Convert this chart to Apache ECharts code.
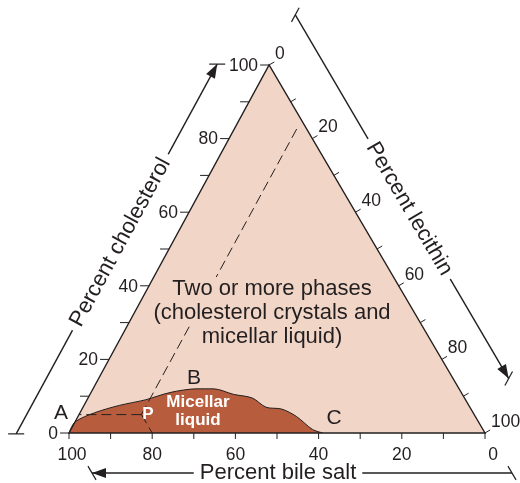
<!DOCTYPE html>
<html>
<head>
<meta charset="utf-8">
<title>Bile salt / lecithin / cholesterol</title>
<script src="https://cdn.jsdelivr.net/npm/echarts@6.0.0/dist/echarts.min.js"></script>
<style>
  html, body { margin: 0; padding: 0; background: #fff; }
  #chart { width: 520px; height: 483px; }
</style>
</head>
<body>
<div id="chart"></div>
<script>
  // every composition is [bile salt, lecithin, cholesterol] in percent
  var tickValues = [0, 10, 20, 30, 40, 50, 60, 70, 80, 90, 100];
  var labelValues = [0, 20, 40, 60, 80, 100];

  // upper edge of the micellar liquid zone, from A over B down to C
  var edgeBileSalt    = [100, 97, 91, 84, 77, 70, 63, 59, 55, 51, 49, 45.5, 43, 41, 39];
  var edgeLecithin    = [0, 0, 3.5, 8.5, 14, 19, 25, 29, 34.5, 39.5, 44, 48, 52.5, 58, 61];
  var edgeCholesterol = [0, 3, 5.5, 7.5, 9, 11, 12, 12, 10.5, 9.5, 7, 6.5, 4.5, 1, 0];

  // point P and where its three reading lines meet the sides
  var pointP = [80, 15, 5];
  var readCholesterol = [95, 0, 5];   // A
  var readLecithin = [2, 15, 83];
  var readBileSalt = [80, 20, 0];

  // corners: pure bile salt, pure cholesterol, pure lecithin
  var corners = [[100, 0, 0], [0, 0, 100], [0, 100, 0]];

  var INK = '#231f20';
  var PINK = '#f1d5c6';
  var RED = '#b75d3e';
  var FAMILY = '"Liberation Sans", Arial, sans-serif';

  // the apex of the printed triangle sits a little left of centre
  var APEX = 48.1;

  function toXY(t) {
    return [t[1] + t[2] * APEX / 100, t[2]];
  }

  var edgeData = edgeBileSalt.map(function (b, i) {
    return toXY([b, edgeLecithin[i], edgeCholesterol[i]]);
  });

  function unit(a, b) {
    var dx = b[0] - a[0], dy = b[1] - a[1];
    var len = Math.sqrt(dx * dx + dy * dy);
    return [dx / len, dy / len, len];
  }

  function seg(a, b, w) {
    return {
      type: 'line',
      shape: { x1: a[0], y1: a[1], x2: b[0], y2: b[1] },
      style: { stroke: INK, lineWidth: w || 1 }
    };
  }

  function txt(s, x, y, size, align, valign, extra) {
    var style = {
      text: s, fill: INK, font: size + 'px ' + FAMILY,
      textAlign: align, textVerticalAlign: valign
    };
    for (var k in extra) style[k] = extra[k];
    return { type: 'text', x: x, y: y, style: style };
  }

  // ticks + numbers along one side
  function sideSeries(side) {
    var data = tickValues.map(function (v) {
      var t;
      if (side === 'bile') t = [v, 100 - v, 0];
      else if (side === 'chol') t = [100 - v, 0, v];
      else t = [0, v, 100 - v];
      return toXY(t).concat(v);
    });
    return {
      type: 'custom',
      coordinateSystem: 'cartesian2d',
      silent: true,
      z: 6,
      data: data,
      renderItem: function (params, api) {
        var p = api.coord([api.value(0), api.value(1)]);
        var v = api.value(2);
        var kids = [];
        var showLabel = labelValues.indexOf(v) >= 0;
        if (side === 'bile') {
          kids.push(seg(p, [p[0], p[1] + 6]));
          if (showLabel) {
            var nudge = v === 0 ? 8 : (v === 100 ? 3 : 0);
            kids.push(txt(String(v), p[0] + nudge, p[1] + 22, 17.5, 'center', 'middle'));
          }
        } else if (side === 'chol') {
          kids.push(seg([p[0] - 9, p[1]], p));
          if (showLabel) kids.push(txt(String(v), p[0] - 11, p[1] + 1, 17.5, 'right', 'middle'));
        } else {
          var T = api.coord(toXY(corners[1]));
          var R = api.coord(toXY(corners[2]));
          var u = unit(T, R);
          var n = [-u[1], u[0]];
          if (n[0] < 0) n = [-n[0], -n[1]];
          kids.push(seg(p, [p[0] + n[0] * 6, p[1] + n[1] * 6]));
          if (showLabel) kids.push(txt(String(v), p[0] + 6, p[1] - 11, 17.5, 'left', 'middle'));
        }
        return { type: 'group', children: kids };
      }
    };
  }

  // long arrowed guide lines with the axis titles
  var guides = [
    { title: 'Percent cholesterol', from: 0, to: 1, offset: 46, start: -26, trim: 24, at: 192, flip: false },
    { title: 'Percent lecithin', from: 1, to: 2, offset: 48, start: -30, trim: 35, at: 195, flip: false },
    { title: 'Percent bile salt', from: 2, to: 0, offset: 40, start: -27, trim: 23, at: 207, flip: true }
  ];

  var chart = echarts.init(document.getElementById('chart'));

  var option = {
    animation: false,
    backgroundColor: '#fff',
    grid: { left: 69, right: 35, top: 65, bottom: 50 },
    xAxis: { type: 'value', min: 0, max: 100, show: false },
    yAxis: { type: 'value', min: 0, max: 100, show: false },
    series: [
      {
        // whole triangle, two or more phases
        type: 'custom',
        coordinateSystem: 'cartesian2d',
        silent: true,
        z: 1,
        data: [[0, 0]],
        renderItem: function (params, api) {
          var pts = corners.map(function (c) { return api.coord(toXY(c)); });
          return { type: 'polygon', shape: { points: pts }, style: { fill: PINK } };
        }
      },
      {
        name: 'Micellar liquid',
        type: 'line',
        data: edgeData,
        smooth: 0.3,
        symbol: 'none',
        silent: true,
        z: 2,
        lineStyle: { color: INK, width: 1 },
        areaStyle: { color: RED, opacity: 1 }
      },
      {
        type: 'line', data: [toXY(pointP), toXY(readCholesterol)], symbol: 'none', silent: true, z: 3,
        lineStyle: { color: INK, width: 1, type: [10, 5] }
      },
      {
        type: 'line', data: [toXY(pointP), toXY(readLecithin)], symbol: 'none', silent: true, z: 3,
        lineStyle: { color: INK, width: 1, type: [10, 5] }
      },
      {
        type: 'line', data: [toXY(pointP), toXY(readBileSalt)], symbol: 'none', silent: true, z: 3,
        lineStyle: { color: INK, width: 1, type: [10, 5] }
      },
      {
        // triangle outline on top of the fills
        type: 'custom',
        coordinateSystem: 'cartesian2d',
        silent: true,
        z: 5,
        data: [[0, 0]],
        renderItem: function (params, api) {
          var pts = corners.map(function (c) { return api.coord(toXY(c)); });
          return { type: 'polygon', shape: { points: pts }, style: { fill: null, stroke: INK, lineWidth: 1.4 } };
        }
      },
      sideSeries('bile'),
      sideSeries('chol'),
      sideSeries('lec'),
      {
        type: 'custom',
        coordinateSystem: 'cartesian2d',
        silent: true,
        z: 7,
        clip: false,
        data: [[0, 0]],
        renderItem: function (params, api) {
          var P = corners.map(function (c) { return api.coord(toXY(c)); });
          var cx = (P[0][0] + P[1][0] + P[2][0]) / 3;
          var cy = (P[0][1] + P[1][1] + P[2][1]) / 3;
          var kids = [];
          guides.forEach(function (g) {
            var S = P[g.from], E = P[g.to], O = P[3 - g.from - g.to];
            var u = unit(S, E);
            var len = u[2];
            var n = [u[1], -u[0]];
            var mx = (S[0] + E[0]) / 2 - cx, my = (S[1] + E[1]) / 2 - cy;
            if (n[0] * mx + n[1] * my < 0) n = [-n[0], -n[1]];
            var at = function (a, o) {
              return [S[0] + u[0] * a + n[0] * o, S[1] + u[1] * a + n[1] * o];
            };
            var a0 = at(g.start, g.offset);
            var a1 = at(len - g.trim, g.offset);
            kids.push(seg(a0, a1, 1.4));
            var w = unit(O, S);
            [a0, a1].forEach(function (q) {
              kids.push(seg([q[0] - w[0] * 8, q[1] - w[1] * 8], [q[0] + w[0] * 8, q[1] + w[1] * 8], 1.2));
            });
            var b = at(len - g.trim - 14, g.offset);
            kids.push({
              type: 'polygon',
              shape: { points: [a1, [b[0] + n[0] * 5, b[1] + n[1] * 5], [b[0] - n[0] * 5, b[1] - n[1] * 5]] },
              style: { fill: INK }
            });
            var tc = at(g.at, g.offset);
            var dx = g.flip ? -u[0] : u[0], dy = g.flip ? -u[1] : u[1];
            var t = txt(g.title, tc[0], tc[1], 22, 'center', 'middle', { backgroundColor: '#fff', padding: [0, 6] });
            t.rotation = Math.atan2(-dy, dx);
            kids.push(t);
          });
          return { type: 'group', children: kids };
        }
      }
    ],
    graphic: [
      { type: 'text', z: 20, x: 272, y: 289, style: { text: 'Two or more phases', fill: INK, font: '22px ' + FAMILY, textAlign: 'center', textVerticalAlign: 'middle', backgroundColor: PINK, padding: [1, 2] } },
      { type: 'text', z: 20, x: 272, y: 313, style: { text: '(cholesterol crystals and', fill: INK, font: '22px ' + FAMILY, textAlign: 'center', textVerticalAlign: 'middle', backgroundColor: PINK, padding: [1, 2] } },
      { type: 'text', z: 20, x: 272, y: 337, style: { text: 'micellar liquid)', fill: INK, font: '22px ' + FAMILY, textAlign: 'center', textVerticalAlign: 'middle', backgroundColor: PINK, padding: [1, 2] } },
      { type: 'text', z: 20, x: 198, y: 411, style: { text: 'Micellar\nliquid', fill: '#fff', font: 'bold 17px ' + FAMILY, lineHeight: 18, textAlign: 'center', textVerticalAlign: 'middle' } },
      { type: 'text', z: 20, x: 148, y: 414, style: { text: 'P', fill: '#fff', font: 'bold 17px ' + FAMILY, textAlign: 'center', textVerticalAlign: 'middle' } },
      { type: 'text', z: 20, x: 61, y: 413, style: { text: 'A', fill: INK, font: '21px ' + FAMILY, textAlign: 'center', textVerticalAlign: 'middle' } },
      { type: 'text', z: 20, x: 194, y: 378, style: { text: 'B', fill: INK, font: '21px ' + FAMILY, textAlign: 'center', textVerticalAlign: 'middle' } },
      { type: 'text', z: 20, x: 334, y: 418, style: { text: 'C', fill: INK, font: '21px ' + FAMILY, textAlign: 'center', textVerticalAlign: 'middle' } }
    ]
  };

  chart.setOption(option);
</script>
</body>
</html>
